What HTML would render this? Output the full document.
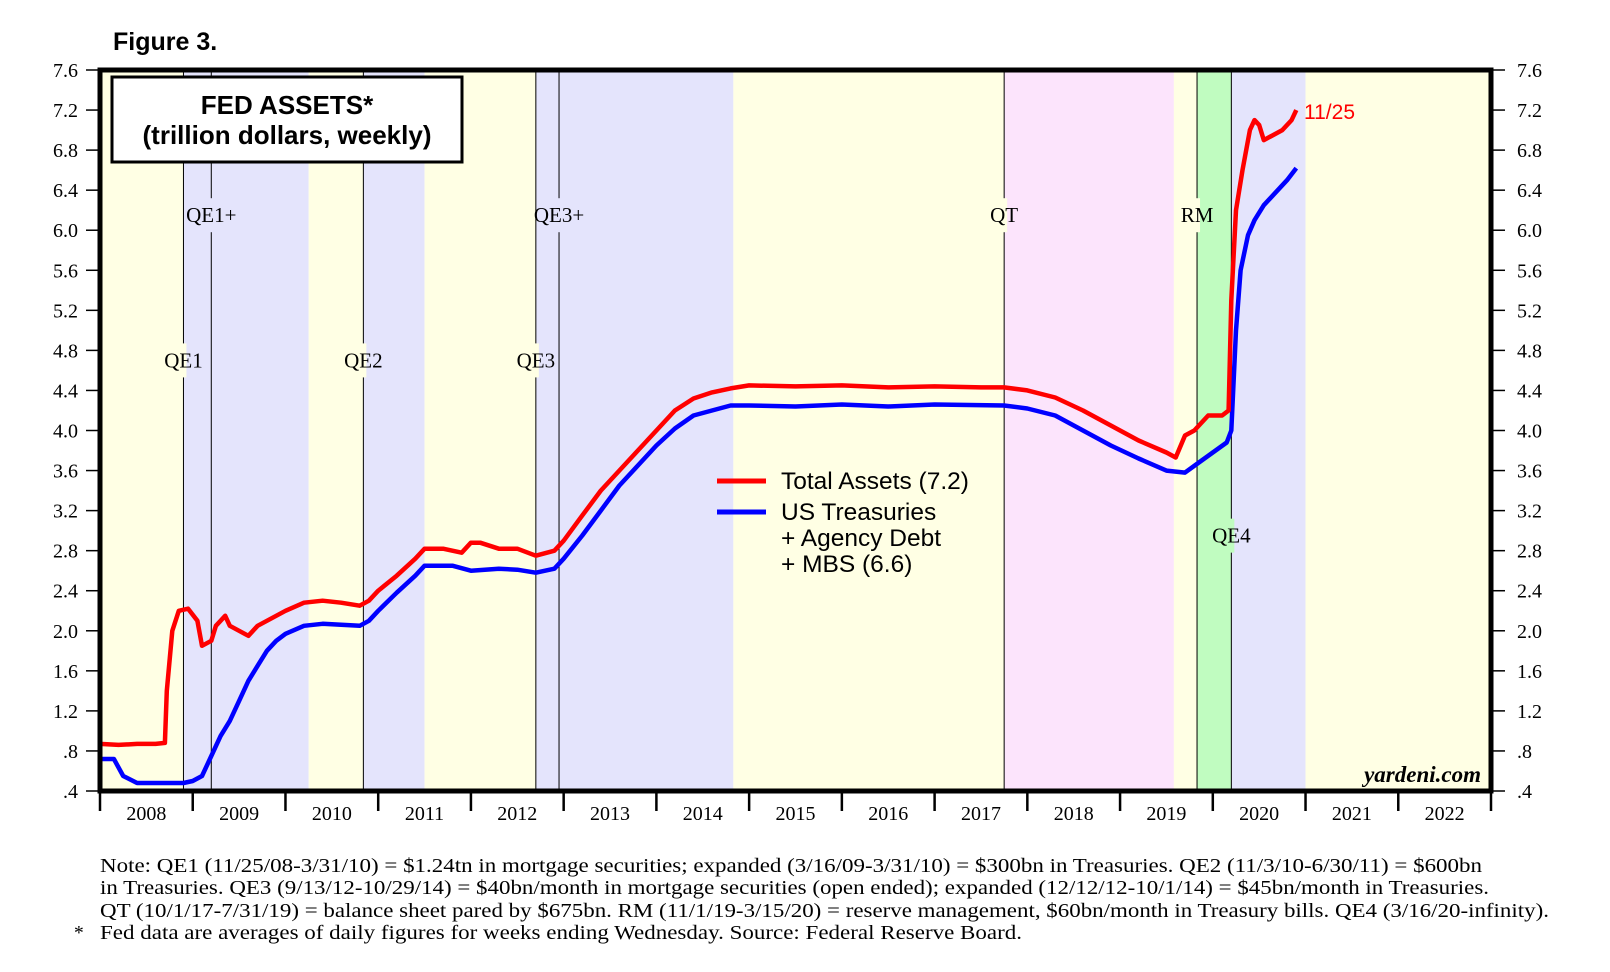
<!DOCTYPE html>
<html><head><meta charset="utf-8"><style>
html,body{margin:0;padding:0;background:#fff;}
svg{display:block;}
.serif{font-family:"Liberation Serif",serif;}
.sans{font-family:"Liberation Sans",sans-serif;}
</style></head><body>
<svg id="chart" width="1610" height="972" viewBox="0 0 1610 972" xmlns="http://www.w3.org/2000/svg">
<g id="bands"></g><g id="vlines"></g><g id="labels"></g><g id="series"></g><g id="axes"></g>
<text x="113" y="50" class="sans" font-size="25" font-weight="bold">Figure 3.</text>
<rect x="112" y="77" width="350" height="85" fill="#fff" stroke="#000" stroke-width="3"/>
<text x="287" y="114" text-anchor="middle" class="sans" font-size="26" font-weight="bold">FED ASSETS*</text>
<text x="287" y="144" text-anchor="middle" class="sans" font-size="26" font-weight="bold">(trillion dollars, weekly)</text>
<g>
<line x1="717" y1="481" x2="766" y2="481" stroke="#f00" stroke-width="5"/>
<text x="781" y="489" class="sans" font-size="24.5">Total Assets (7.2)</text>
<line x1="717" y1="512" x2="766" y2="512" stroke="#00f" stroke-width="5"/>
<text x="781" y="520" class="sans" font-size="24.5">US Treasuries</text>
<text x="781" y="546" class="sans" font-size="24.5">+ Agency Debt</text>
<text x="781" y="572" class="sans" font-size="24.5">+ MBS (6.6)</text>
</g>
<text x="1304" y="119" class="sans" font-size="21" fill="#f00">11/25</text>
<text x="1481" y="782" text-anchor="end" class="serif" font-size="23" font-weight="bold" font-style="italic">yardeni.com</text>
<g class="serif" font-size="19.5">
<text x="100" y="872" textLength="1382" lengthAdjust="spacingAndGlyphs">Note: QE1 (11/25/08-3/31/10) = $1.24tn in mortgage securities; expanded (3/16/09-3/31/10) = $300bn in Treasuries. QE2 (11/3/10-6/30/11) = $600bn</text>
<text x="100" y="894" textLength="1389" lengthAdjust="spacingAndGlyphs">in Treasuries. QE3 (9/13/12-10/29/14) = $40bn/month in mortgage securities (open ended); expanded (12/12/12-10/1/14) = $45bn/month in Treasuries.</text>
<text x="100" y="917" textLength="1449" lengthAdjust="spacingAndGlyphs">QT (10/1/17-7/31/19) = balance sheet pared by $675bn. RM (11/1/19-3/15/20) = reserve management, $60bn/month in Treasury bills. QE4 (3/16/20-infinity).</text>
<text x="74" y="939">*</text>
<text x="100" y="939" textLength="922" lengthAdjust="spacingAndGlyphs">Fed data are averages of daily figures for weeks ending Wednesday. Source: Federal Reserve Board.</text>
</g>
</svg>
<script>
const years=[2008,2009,2010,2011,2012,2013,2014,2015,2016,2017,2018,2019,2020,2021,2022];
const yTicks=[0.4,0.8,1.2,1.6,2.0,2.4,2.8,3.2,3.6,4.0,4.4,4.8,5.2,5.6,6.0,6.4,6.8,7.2,7.6];
const bandStarts=[2008.0,2008.9,2010.25,2010.84,2011.5,2012.7,2014.83,2017.75,2019.58,2019.83,2020.2,2021.0];
const bandEnds=[2008.9,2010.25,2010.84,2011.5,2012.7,2014.83,2017.75,2019.58,2019.83,2020.2,2021.0,2023.0];
const bandColors=["#ffffe4","#e4e4fc","#ffffe4","#e4e4fc","#ffffe4","#e4e4fc","#ffffe4","#fce4fc","#ffffe4","#c0fcc0","#e4e4fc","#ffffe4"];
const eventNames=["QE1","QE1+","QE2","QE3","QE3+","QT","RM","QE4"];
const eventDates=[2008.9,2009.2,2010.84,2012.7,2012.95,2017.75,2019.83,2020.2];
const eventLevels=[4.7,6.15,4.7,4.7,6.15,6.15,6.15,2.95];
const totalDates=[2008.0,2008.2,2008.4,2008.6,2008.7,2008.72,2008.78,2008.85,2008.95,2009.05,2009.1,2009.2,2009.25,2009.35,2009.4,2009.5,2009.6,2009.7,2009.8,2009.9,2010.0,2010.2,2010.4,2010.6,2010.8,2010.9,2011.0,2011.2,2011.4,2011.5,2011.7,2011.9,2012.0,2012.1,2012.3,2012.5,2012.7,2012.9,2013.0,2013.2,2013.4,2013.6,2013.8,2014.0,2014.2,2014.4,2014.6,2014.8,2015.0,2015.5,2016.0,2016.5,2017.0,2017.5,2017.75,2018.0,2018.3,2018.6,2018.9,2019.2,2019.5,2019.6,2019.7,2019.8,2019.95,2020.1,2020.17,2020.2,2020.25,2020.32,2020.4,2020.45,2020.5,2020.55,2020.65,2020.75,2020.85,2020.9];
const totalValues=[0.87,0.86,0.87,0.87,0.88,1.4,2.0,2.2,2.22,2.1,1.85,1.9,2.05,2.15,2.05,2.0,1.95,2.05,2.1,2.15,2.2,2.28,2.3,2.28,2.25,2.3,2.4,2.55,2.72,2.82,2.82,2.78,2.88,2.88,2.82,2.82,2.75,2.8,2.9,3.15,3.4,3.6,3.8,4.0,4.2,4.32,4.38,4.42,4.45,4.44,4.45,4.43,4.44,4.43,4.43,4.4,4.33,4.2,4.05,3.9,3.78,3.73,3.95,4.0,4.15,4.15,4.2,5.3,6.2,6.6,7.0,7.1,7.05,6.9,6.95,7.0,7.1,7.2];
const secDates=[2008.0,2008.15,2008.25,2008.4,2008.9,2009.0,2009.1,2009.2,2009.3,2009.4,2009.5,2009.6,2009.7,2009.8,2009.9,2010.0,2010.2,2010.4,2010.6,2010.8,2010.9,2011.0,2011.2,2011.4,2011.5,2011.8,2012.0,2012.3,2012.5,2012.7,2012.9,2013.0,2013.2,2013.4,2013.6,2013.8,2014.0,2014.2,2014.4,2014.6,2014.8,2015.0,2015.5,2016.0,2016.5,2017.0,2017.75,2018.0,2018.3,2018.6,2018.9,2019.2,2019.5,2019.7,2019.85,2020.0,2020.15,2020.2,2020.25,2020.3,2020.38,2020.45,2020.55,2020.65,2020.8,2020.9];
const secValues=[0.72,0.72,0.55,0.48,0.48,0.5,0.55,0.75,0.95,1.1,1.3,1.5,1.65,1.8,1.9,1.97,2.05,2.07,2.06,2.05,2.1,2.2,2.38,2.55,2.65,2.65,2.6,2.62,2.61,2.58,2.62,2.72,2.95,3.2,3.45,3.65,3.85,4.02,4.15,4.2,4.25,4.25,4.24,4.26,4.24,4.26,4.25,4.22,4.15,4.0,3.85,3.72,3.6,3.58,3.68,3.78,3.88,4.0,5.0,5.6,5.95,6.1,6.25,6.35,6.5,6.62];

const L=100,R=1491,T=70,B=791,X0=2008,X1=2023,Y0=0.4,Y1=7.6;
const sx=t=>L+(t-X0)/(X1-X0)*(R-L);
const sy=v=>B-(v-Y0)/(Y1-Y0)*(B-T);
const NS="http://www.w3.org/2000/svg";
function mk(tag,attrs,parent,txt){const e=document.createElementNS(NS,tag);for(const k in attrs)e.setAttribute(k,attrs[k]);if(txt!==undefined)e.textContent=txt;parent.appendChild(e);return e;}
const gb=document.getElementById('bands'),gv=document.getElementById('vlines'),gl=document.getElementById('labels'),gs=document.getElementById('series'),ga=document.getElementById('axes');
bandStarts.forEach((s,i)=>{
  const r=mk('rect',{x:sx(s),y:T,width:sx(bandEnds[i])-sx(s),height:B-T,fill:bandColors[i]},gb);
  
  
});
function bandColorAt(t){for(let i=0;i<bandStarts.length;i++){if(t>=bandStarts[i]&&t<bandEnds[i])return bandColors[i];}return "#fff";}
eventDates.forEach((d,i)=>{
  const ln=mk('line',{x1:sx(d),y1:T,x2:sx(d),y2:B,stroke:'#000','stroke-width':1},gv);
  
  
  const cx=sx(d),cy=sy(eventLevels[i]);
  mk('rect',{x:cx-3,y:cy-17,width:6,height:34,fill:bandColorAt(d-0.01)},gl);
  const tx=mk('text',{x:cx,y:cy+7,'text-anchor':'middle','class':'serif','font-size':21},gl,eventNames[i]);
  
  
});
function path(ds,vs,color,name){
  const d=ds.map((t,i)=>(i?'L':'M')+sx(t).toFixed(1)+','+sy(vs[i]).toFixed(1)).join('');
  const p=mk('path',{d:d,fill:'none',stroke:color,'stroke-width':4.5,'stroke-linejoin':'round'},gs);
  
  
}
path(secDates,secValues,'#00f','series-securities-line');
path(totalDates,totalValues,'#f00','series-total-assets-line');
mk('rect',{x:L,y:T,width:R-L,height:B-T,fill:'none',stroke:'#000','stroke-width':5},ga);
yTicks.forEach(v=>{
  const y=sy(v);const lab=v<1?('.'+Math.round(v*10)):v.toFixed(1);
  mk('line',{x1:L-14,y1:y,x2:L,y2:y,stroke:'#000','stroke-width':1.5},ga);
  mk('line',{x1:R,y1:y,x2:R+14,y2:y,stroke:'#000','stroke-width':1.5},ga);
  const a=mk('text',{x:78,y:y+7,'text-anchor':'end','class':'serif','font-size':20},ga,lab);
  
  
  const b=mk('text',{x:1517,y:y+7,'class':'serif','font-size':20},ga,lab);
  
  
});
years.forEach(yr=>{
  mk('line',{x1:sx(yr),y1:B,x2:sx(yr),y2:B+20,stroke:'#000','stroke-width':2.5},ga);
  const t=mk('text',{x:sx(yr+0.5),y:B+29,'text-anchor':'middle','class':'serif','font-size':20},ga,String(yr));
  
  
});
mk('line',{x1:R,y1:B,x2:R,y2:B+20,stroke:'#000','stroke-width':2.5},ga);
</script>
</body></html>
